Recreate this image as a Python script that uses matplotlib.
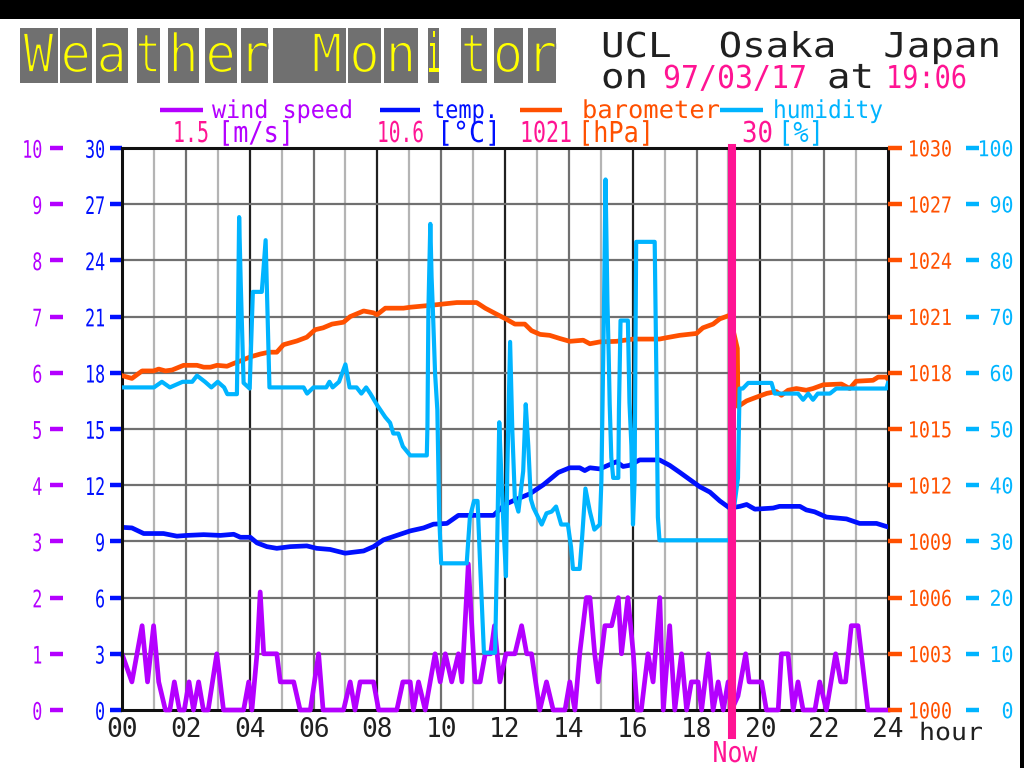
import matplotlib
matplotlib.use("Agg")
import matplotlib.pyplot as plt
from matplotlib.patches import Rectangle
from matplotlib.patheffects import AbstractPathEffect
from matplotlib.transforms import Affine2D

# Colours used by the monitor page
WIND = "#b400ff"
TEMP = "#0010ff"
BARO = "#ff5000"
HUMI = "#00b4ff"
PINK = "#ff1493"
INK = "#202020"

# Readings (hour, value)
wind = [(0.0, 1.0), (0.31, 0.5), (0.63, 1.5), (0.8, 0.5), (0.99, 1.5), (1.15, 0.5),
        (1.36, 0), (1.5, 0), (1.64, 0.5), (1.8, 0), (1.95, 0), (2.1, 0.5), (2.24, 0),
        (2.4, 0.5), (2.55, 0), (2.7, 0), (2.97, 1.0), (3.18, 0), (3.81, 0), (3.97, 0.5),
        (4.07, 0), (4.23, 1.0), (4.33, 2.1), (4.44, 1.0), (4.85, 1.0), (4.96, 0.5),
        (5.38, 0.5), (5.58, 0), (5.9, 0), (6.16, 1.0), (6.3, 0), (6.94, 0), (7.15, 0.5),
        (7.3, 0), (7.46, 0.5), (7.88, 0.5), (8.04, 0), (8.61, 0), (8.8, 0.5), (9.03, 0.5),
        (9.13, 0), (9.29, 0.5), (9.5, 0), (9.81, 1.0), (9.97, 0.5), (10.13, 1.0),
        (10.33, 0.5), (10.54, 1.0), (10.65, 0.5), (10.85, 2.6), (10.96, 1.5), (11.06, 0.5),
        (11.22, 0.5), (11.38, 1.0), (11.55, 1.0), (11.67, 1.5), (11.84, 0.5), (12.03, 1.0),
        (12.31, 1.0), (12.52, 1.5), (12.68, 1.0), (12.83, 1.0), (13.09, 0), (13.3, 0.5),
        (13.51, 0), (13.88, 0), (14.03, 0.5), (14.19, 0), (14.34, 1.0), (14.55, 2.0),
        (14.66, 2.0), (14.81, 1.0), (14.92, 0.5), (15.13, 1.5), (15.34, 1.5), (15.55, 2.0),
        (15.65, 1.0), (15.85, 2.0), (16.02, 1.0), (16.14, 0), (16.27, 0), (16.48, 1.0),
        (16.64, 0.5), (16.85, 2.0), (16.96, 0), (17.16, 1.5), (17.32, 0), (17.53, 1.0),
        (17.69, 0), (17.84, 0.5), (18.05, 0.5), (18.16, 0), (18.37, 1.0), (18.52, 0),
        (18.68, 0.5), (18.84, 0), (18.99, 0.5), (19.1, 0), (19.3, 0.25), (19.54, 1.0),
        (19.65, 0.5), (20.04, 0.5), (20.19, 0), (20.56, 0), (20.66, 1.0), (20.87, 1.0),
        (21.03, 0), (21.18, 0.5), (21.34, 0), (21.71, 0), (21.86, 0.5), (22.07, 0),
        (22.36, 1.0), (22.52, 0.5), (22.67, 0.5), (22.85, 1.5), (23.06, 1.5), (23.37, 0),
        (24.0, 0)]

temp = [(0.0, 9.75), (0.31, 9.72), (0.68, 9.42), (1.3, 9.42), (1.72, 9.28), (2.04, 9.32),
        (2.56, 9.36), (3.08, 9.32), (3.5, 9.38), (3.71, 9.22), (4.02, 9.22), (4.23, 8.92),
        (4.54, 8.72), (4.85, 8.63), (5.27, 8.72), (5.79, 8.76), (6.1, 8.63), (6.52, 8.57),
        (6.99, 8.37), (7.57, 8.49), (7.88, 8.72), (8.19, 9.08), (8.61, 9.32), (9.03, 9.56),
        (9.45, 9.72), (9.76, 9.92), (10.18, 9.96), (10.54, 10.39), (11.64, 10.39),
        (12.0, 10.97), (12.36, 11.25), (12.78, 11.54), (13.2, 12.02), (13.67, 12.68),
        (14.03, 12.93), (14.34, 12.93), (14.5, 12.78), (14.66, 12.93), (14.97, 12.87),
        (15.28, 13.1), (15.49, 13.25), (15.7, 13.0), (15.9, 13.06), (16.22, 13.35),
        (16.84, 13.35), (17.16, 13.06), (17.48, 12.68), (17.79, 12.3), (18.1, 11.92),
        (18.42, 11.63), (18.73, 11.16), (19.04, 10.78), (19.36, 10.87), (19.57, 10.97),
        (19.83, 10.72), (20.4, 10.78), (20.6, 10.87), (21.24, 10.87), (21.44, 10.68),
        (21.7, 10.58), (22.07, 10.3), (22.7, 10.2), (23.11, 9.96), (23.64, 9.96), (24.0, 9.77)]

baro = [(0.0, 1017.85), (0.31, 1017.7), (0.63, 1018.1), (0.99, 1018.1), (1.15, 1018.2),
        (1.36, 1018.1), (1.57, 1018.15), (1.93, 1018.4), (2.35, 1018.4), (2.56, 1018.3),
        (2.77, 1018.3), (2.98, 1018.4), (3.29, 1018.35), (3.5, 1018.5), (3.81, 1018.7),
        (4.02, 1018.85), (4.33, 1019.0), (4.6, 1019.1), (4.85, 1019.1), (5.06, 1019.5),
        (5.48, 1019.7), (5.79, 1019.9), (6.05, 1020.3), (6.3, 1020.4), (6.58, 1020.6),
        (6.94, 1020.7), (7.15, 1021.0), (7.57, 1021.3), (7.88, 1021.2), (7.99, 1021.1),
        (8.25, 1021.45), (8.82, 1021.45), (9.03, 1021.5), (9.66, 1021.6), (10.49, 1021.75),
        (11.11, 1021.75), (11.38, 1021.45), (11.69, 1021.17), (12.0, 1020.9), (12.31, 1020.6),
        (12.62, 1020.6), (12.83, 1020.25), (13.1, 1020.05), (13.4, 1020.0), (13.72, 1019.83),
        (14.03, 1019.68), (14.45, 1019.74), (14.66, 1019.55), (14.97, 1019.65),
        (15.49, 1019.68), (16.01, 1019.8), (16.84, 1019.8), (17.05, 1019.87), (17.47, 1020.0),
        (18.0, 1020.1), (18.2, 1020.4), (18.52, 1020.6), (18.73, 1020.88), (19.04, 1021.07),
        (19.28, 1019.3), (19.3, 1016.2), (19.57, 1016.5), (19.88, 1016.7), (20.2, 1016.9),
        (20.5, 1017.0), (20.66, 1016.8), (20.87, 1017.07), (21.13, 1017.16), (21.44, 1017.07),
        (21.65, 1017.16), (21.97, 1017.36), (22.54, 1017.4), (22.8, 1017.16), (23.0, 1017.55),
        (23.53, 1017.6), (23.69, 1017.77), (23.95, 1017.77), (24.0, 1017.64)]

humidity = [(0.0, 57.4), (1.0, 57.4), (1.25, 58.4), (1.5, 57.4), (1.9, 58.4), (2.2, 58.4),
            (2.35, 59.5), (2.6, 58.4), (2.8, 57.4), (3.0, 58.4), (3.2, 57.4), (3.3, 56.2),
            (3.6, 56.2), (3.63, 68), (3.67, 87.7), (3.72, 76), (3.81, 58.2), (4.0, 57.2),
            (4.1, 74.4), (4.38, 74.4), (4.5, 83.6), (4.62, 57.4), (5.69, 57.4), (5.8, 56.3),
            (6.0, 57.4), (6.4, 57.4), (6.5, 58.4), (6.6, 57.4), (6.8, 58.4), (7.0, 61.5),
            (7.13, 57.4), (7.35, 57.4), (7.5, 56.3), (7.65, 57.4), (7.78, 56.3), (8.0, 54.2),
            (8.25, 52.1), (8.4, 51.1), (8.5, 49.2), (8.66, 49.2), (8.8, 46.9), (9.03, 45.3),
            (9.55, 45.3), (9.57, 50.5), (9.6, 71.2), (9.66, 86.5), (9.7, 77), (9.74, 71.2),
            (9.81, 59.8), (9.88, 53.4), (9.94, 34.3), (10.0, 26.1), (10.8, 26.1), (10.9, 34.3),
            (11.03, 37.2), (11.14, 37.2), (11.22, 26), (11.34, 10.2), (11.69, 10.2),
            (11.75, 28), (11.82, 51.2), (11.89, 41), (11.94, 34.3), (12.03, 23.8), (12.07, 42),
            (12.16, 65.5), (12.23, 49.6), (12.31, 37.5), (12.42, 35.3), (12.57, 42.5),
            (12.65, 54.4), (12.73, 47), (12.81, 37.5), (12.89, 36), (13.15, 33), (13.3, 35),
            (13.46, 35.3), (13.6, 36.2), (13.76, 33), (13.97, 33), (14.07, 29), (14.13, 25.1),
            (14.34, 25.1), (14.42, 31), (14.52, 39.4), (14.66, 35.3), (14.8, 32.1),
            (14.97, 33), (15.02, 40.7), (15.07, 59.8), (15.1, 71.2), (15.15, 94.4),
            (15.21, 72.5), (15.25, 63), (15.28, 54.4), (15.33, 45), (15.39, 41.3),
            (15.55, 41.3), (15.57, 53.4), (15.62, 69.3), (15.85, 69.3), (15.9, 54.7),
            (15.96, 47), (16.01, 33), (16.06, 40.7), (16.11, 83.3), (16.69, 83.3), (16.74, 61),
            (16.79, 34.3), (16.84, 30.2), (19.04, 30.2), (19.3, 41.3), (19.35, 57.2),
            (19.45, 57.2), (19.62, 58.2), (20.35, 58.2), (20.45, 56.3), (21.18, 56.3),
            (21.34, 55.2), (21.5, 56.3), (21.65, 55.2), (21.8, 56.3), (22.18, 56.3),
            (22.38, 57.2), (23.95, 57.2), (24.0, 58.2)]

# Current readings shown under the legend
wind_now = 1.5
temp_now = 10.6
baro_now = 1021
humi_now = 30
now_hour = 19 + 6 / 60

hour_labels = ["00", "02", "04", "06", "08", "10", "12", "14", "16", "18", "20", "22", "24"]
wind_ticks = list(range(0, 11))
temp_ticks = list(range(0, 31, 3))
baro_ticks = list(range(1000, 1031, 3))
humi_ticks = list(range(0, 101, 10))

wind_h = [h for h, v in wind]
wind_v = [v for h, v in wind]
temp_h = [h for h, v in temp]
temp_v = [v for h, v in temp]
baro_h = [h for h, v in baro]
baro_v = [v for h, v in baro]
humi_h = [h for h, v in humidity]
humi_v = [v for h, v in humidity]


# Stretch glyphs so the mono font gets the tall, thin-stroked look of the page font
class Stretch(AbstractPathEffect):
    def __init__(self, sx=1.0, sy=1.0, ha="left", va="baseline", erode=None):
        super().__init__()
        self.sx, self.sy = sx, sy
        self.ha, self.va = ha, va
        self.erode = erode

    def draw_path(self, renderer, gc, tpath, affine, rgbFace=None):
        bb = tpath.get_extents()
        cx = {"left": 0.0, "center": (bb.x0 + bb.x1) / 2, "right": bb.x1}[self.ha]
        cy = (bb.y0 + bb.y1) / 2 if self.va == "center" else 0.0
        trans = (Affine2D().translate(-cx, -cy).scale(self.sx, self.sy)
                 .translate(cx, cy) + affine)
        renderer.draw_path(gc, tpath, trans, rgbFace)
        if self.erode:
            lw, bg = self.erode
            gc2 = renderer.new_gc()
            gc2.copy_properties(gc)
            gc2.set_foreground(bg)
            gc2.set_linewidth(lw)
            renderer.draw_path(gc2, tpath, trans, None)
            gc2.restore()


plt.rcParams["font.family"] = "DejaVu Sans Mono"

fig = plt.figure(figsize=(10.24, 7.68), dpi=100)
fig.patch.set_facecolor("white")

ax = fig.add_axes([122 / 1024, 58 / 768, 766 / 1024, 562 / 768])
ax_t = ax.twinx()
ax_b = ax.twinx()
ax_h = ax.twinx()

# Grid
for h in range(1, 24):
    if h % 4 == 0:
        c = "#202020"
    elif h % 2 == 0:
        c = "#707070"
    else:
        c = "#b4b4b4"
    ax.axvline(h, color=c, lw=1.6, zorder=0)
for v in wind_ticks[1:-1]:
    ax.axhline(v, color="#707070", lw=1.6, zorder=0)

# Series
ax.plot(wind_h, wind_v, color=WIND, lw=3.4, zorder=3, clip_on=False)
ax_t.plot(temp_h, temp_v, color=TEMP, lw=3.4)
ax_b.plot(baro_h, baro_v, color=BARO, lw=3.4)
ax_h.plot(humi_h, humi_v, color=HUMI, lw=3.0)
ax_h.axvline(now_hour, ymin=-0.045, ymax=1.0, color=PINK, lw=5.8, clip_on=False, zorder=5)

# Wind speed axis (left, outer column)
ax.set_xlim(0, 24)
ax.set_ylim(0, 10)
ax.set_xticks(range(0, 25, 2))
ax.set_xticklabels(hour_labels)
ax.set_yticks(wind_ticks)
ax.tick_params(axis="x", length=0, pad=5, labelsize=18.8, labelcolor=INK)
ax.tick_params(axis="y", length=9.4, width=3.2, color=WIND, pad=5.5,
               labelsize=12, labelcolor=WIND)
ax.spines["left"].set_position(("outward", 42.5))
ax.spines["left"].set_visible(False)
for side in ("top", "bottom", "right"):
    ax.spines[side].set_linewidth(2.2)
    ax.spines[side].set_color("#101010")

# Temperature axis (left, against the frame)
ax_t.set_ylim(0, 30)
ax_t.set_yticks(temp_ticks)
ax_t.yaxis.tick_left()
ax_t.tick_params(axis="y", length=8.6, width=3.2, color=TEMP, pad=3.6,
                 labelsize=12, labelcolor=TEMP)
for side in ("top", "bottom", "right"):
    ax_t.spines[side].set_visible(False)
ax_t.spines["left"].set_linewidth(2.2)
ax_t.spines["left"].set_color("#101010")

# Barometer axis (right, against the frame)
ax_b.set_ylim(1000, 1030)
ax_b.set_yticks(baro_ticks)
ax_b.tick_params(axis="y", length=10, width=3.2, color=BARO, pad=4.3,
                 labelsize=13.2, labelcolor=BARO)
for side in ("top", "bottom", "left", "right"):
    ax_b.spines[side].set_visible(False)

# Humidity axis (right, outer column)
ax_h.set_ylim(0, 100)
ax_h.set_yticks(humi_ticks)
ax_h.spines["right"].set_position(("outward", 56))
for side in ("top", "bottom", "left", "right"):
    ax_h.spines[side].set_visible(False)
ax_h.tick_params(axis="y", length=9.4, width=3.2, color=HUMI, pad=25,
                 labelsize=14.3, labelcolor=HUMI)
for t in ax_h.get_yticklabels():
    t.set_ha("right")

for t in ax.get_yticklabels() + ax_t.get_yticklabels():
    t.set_path_effects([Stretch(1.0, 1.45, "right", "center")])
for t in ax_b.get_yticklabels():
    t.set_path_effects([Stretch(1.0, 1.2, "left", "center")])
for t in ax_h.get_yticklabels():
    t.set_path_effects([Stretch(1.0, 1.1, "right", "center")])

# Page overlay in pixel coordinates: title, header, legend
ov = fig.add_axes([0, 0, 1, 1])
ov.set_xlim(0, 1024)
ov.set_ylim(768, 0)
ov.axis("off")
ov.patch.set_visible(False)

ov.add_patch(Rectangle((0, 0), 1024, 19, color="black", lw=0))
ov.add_patch(Rectangle((1020, 19), 4, 749, color="black", lw=0))


def label(x, y, s, width, cap, color, ha="left", k=0.85):
    em = cap / 0.729 * k
    sx = width / (len(s) * 0.602 * em)
    ov.text(x, y, s, color=color, fontsize=em * 0.72, ha=ha, va="baseline",
            path_effects=[Stretch(sx, 1 / k, ha)])


title_boxes = [(19.6, 57.5), (60, 91.5), (96, 127.5), (137, 160), (168, 199),
               (204.6, 236.6), (240.5, 268), (273, 346), (348, 381), (384, 418),
               (428, 439), (461, 487), (493.5, 523), (528, 555.6)]
title_x = [38.5, 75.7, 111.7, 148.5, 183.5, 220.6, 254, 327, 364.5, 401, 433.5,
           474, 508, 541.8]
for (x0, x1), cx, ch in zip(title_boxes, title_x, "WeatherMonitor"):
    ov.add_patch(Rectangle((x0, 28), x1 - x0, 55, color="#707070", lw=0))
    if ch == "i":
        effect = Stretch(0.45, 1.0, "center")
    else:
        effect = Stretch(0.8 if ch == "t" else 0.95, 1.0, "center", erode=(1.3, "#707070"))
    ov.text(cx, 72, ch, color="#ffff00", fontsize=38.5, ha="center", va="baseline",
            path_effects=[effect])

label(601, 57, "UCL  Osaka  Japan", 400, 25, INK)
label(601, 88, "on", 47, 25, INK)
label(663, 88, "97/03/17", 144, 23, PINK)
label(827, 88, "at", 47, 25, INK)
label(886, 88, "19:06", 81, 23, PINK)

# Legend swatches and names
for x0, x1, c in [(160, 203, WIND), (380, 420, TEMP), (520, 562, BARO), (720, 763, HUMI)]:
    ov.plot([x0, x1], [110, 110], color=c, lw=3.2, solid_capstyle="butt")
label(212, 118, "wind speed", 141, 18, WIND)
label(432, 118, "temp.", 66, 18, TEMP)
label(582, 118, "barometer", 138, 18, BARO)
label(773, 118, "humidity", 110, 18, HUMI)

# Current values
label(173, 142, f"{wind_now}", 36, 21, PINK)
label(218, 142, "[m/s]", 76, 21, WIND)
label(377, 142, f"{temp_now}", 47, 21, PINK)
label(437, 142, "[°C]", 64, 21, TEMP)
label(520, 142, f"{baro_now}", 52, 21, PINK)
label(578, 142, "[hPa]", 76, 21, BARO)
label(742, 142, f"{humi_now}", 31, 21, PINK)
label(778, 142, "[%]", 46, 21, HUMI)

label(919, 740, "hour", 64, 17.5, INK)
label(735, 762, "Now", 45, 21, PINK, ha="center")

fig.savefig("out.png", dpi=100)
